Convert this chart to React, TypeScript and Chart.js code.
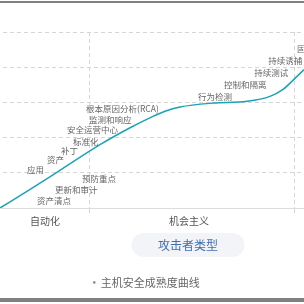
import React, { useEffect, useRef } from 'react';
import { Chart, registerables, layouts } from 'chart.js';

Chart.register(...registerables);

// ---- data ----
const SERIES_NAME = '主机安全成熟度曲线';
const AXIS_TITLE = '攻击者类型';
const CATEGORIES = ['自动化', '机会主义'];
const CATEGORY_POS = [14.8, 62.2];
const GRID_POS = [29.6, 97.0];

const CURVE_X = [0, 9.9, 19.7, 32.9, 42.8, 49.3, 54.3, 59.2, 70.1, 81.3, 88.8, 93.1, 97.7, 100];
const CURVE_Y = [0, 0.53, 1.07, 1.8, 2.28, 2.56, 2.75, 2.87, 2.98, 3.03, 3.17, 3.37, 3.74, 3.93];

const NOTE_TEXT = [
  '资产清点', '更新和审计', '预防重点', '应用', '资产', '补丁', '标准化',
  '安全运营中心', '监测和响应', '根本原因分析(RCA)', '行为检测', '控制和隔离',
  '持续测试', '持续诱捕', '固件防护',
];
const NOTE_X = [12.2, 18.1, 27.0, 8.9, 15.5, 20.1, 24.0, 22.0, 29.3, 28.3, 65.1, 73.7, 83.6, 88.2, 97.7];
const NOTE_Y = [0.2, 0.53, 0.84, 1.1, 1.38, 1.63, 1.88, 2.22, 2.5, 2.81, 3.17, 3.51, 3.85, 4.19, 4.52];

const X_MIN = -3.62;
const X_MAX = 100;
const Y_MIN = 0;
const Y_MAX = 5;

// ---- style ----
const FONT = "'Noto Sans CJK SC', 'Noto Sans', sans-serif";
const LINE_COLOR = '#1ba2b5';
const GRID_COLOR = '#d6d6d6';

const notesPlugin = {
  id: 'notes',
  afterDatasetsDraw(chart: any) {
    const { ctx, scales } = chart;
    const x = scales.x;
    const y = scales.y;
    ctx.save();
    ctx.font = `8.5px ${FONT}`;
    ctx.fillStyle = '#666';
    ctx.textAlign = 'left';
    ctx.textBaseline = 'middle';
    NOTE_TEXT.forEach((t, i) => {
      ctx.fillText(t, x.getPixelForValue(NOTE_X[i]), y.getPixelForValue(NOTE_Y[i]));
    });
    ctx.restore();
  },
};

const pillTitlePlugin = {
  id: 'pillTitle',
  beforeInit(chart: any) {
    const box: any = {
      position: 'bottom',
      weight: 500,
      fullSize: true,
      options: { stackWeight: 1 },
      left: 0, top: 0, right: 0, bottom: 0, width: 0, height: 0,
      isHorizontal() { return true; },
      update(maxWidth: number) {
        this.width = maxWidth;
        this.height = 38;
      },
      draw() {
        const ctx = chart.ctx;
        const xs = chart.scales.xLabel;
        if (!xs) return;
        const cx = xs.getPixelForValue(CATEGORY_POS[1]) - 1;
        const w = 113;
        const h = 24;
        const top = this.top + 4;
        ctx.save();
        ctx.fillStyle = '#f2f4f7';
        ctx.beginPath();
        ctx.roundRect(cx - w / 2, top, w, h, h / 2);
        ctx.fill();
        ctx.font = `12px ${FONT}`;
        ctx.fillStyle = '#3f6fb2';
        ctx.textAlign = 'center';
        ctx.textBaseline = 'middle';
        ctx.fillText(AXIS_TITLE, cx, top + h / 2);
        ctx.restore();
      },
    };
    layouts.addBox(chart, box);
  },
};

export default function App() {
  const ref = useRef<HTMLCanvasElement | null>(null);

  useEffect(() => {
    if (!ref.current) return;
    const chart = new Chart(ref.current, {
      type: 'line',
      data: {
        datasets: [
          {
            label: SERIES_NAME,
            data: CURVE_X.map((x, i) => ({ x, y: CURVE_Y[i] })),
            borderColor: LINE_COLOR,
            backgroundColor: LINE_COLOR,
            borderWidth: 1.5,
            pointRadius: 0,
            cubicInterpolationMode: 'monotone',
            fill: false,
          },
        ],
      },
      options: {
        animation: false,
        responsive: false,
        layout: { padding: { top: 32, left: 0, right: 0, bottom: 0 } },
        plugins: {
          tooltip: { enabled: false },
          legend: {
            display: true,
            position: 'bottom',
            labels: {
              usePointStyle: true,
              boxWidth: 2,
              boxHeight: 2,
              padding: 10,
              color: '#666',
              font: { size: 11, family: FONT },
              generateLabels: (c: any) =>
                c.data.datasets.map((ds: any, i: number) => ({
                  text: ds.label,
                  fillStyle: '#999',
                  strokeStyle: '#999',
                  lineWidth: 0,
                  pointStyle: 'circle',
                  hidden: false,
                  datasetIndex: i,
                  fontColor: '#666',
                })),
            },
          },
        },
        scales: {
          x: {
            type: 'linear',
            position: 'bottom',
            min: X_MIN,
            max: X_MAX,
            afterBuildTicks: (axis: any) => {
              axis.ticks = GRID_POS.map((v) => ({ value: v }));
            },
            ticks: { display: false },
            grid: {
              display: true,
              color: GRID_COLOR,
              drawTicks: true,
              tickLength: 5,
            },
            border: { display: true, color: '#dcdcdc', width: 1, dash: [4, 3] },
          },
          xLabel: {
            type: 'linear',
            position: 'bottom',
            min: X_MIN,
            max: X_MAX,
            afterBuildTicks: (axis: any) => {
              axis.ticks = CATEGORY_POS.map((v) => ({ value: v }));
            },
            ticks: {
              display: true,
              autoSkip: false,
              maxRotation: 0,
              padding: 2,
              color: '#555',
              font: { size: 10, family: FONT },
              callback: (_v: any, i: number) => CATEGORIES[i],
            },
            grid: { display: false, drawTicks: false },
            border: { display: false },
          },
          y: {
            type: 'linear',
            position: 'left',
            min: Y_MIN,
            max: Y_MAX,
            ticks: { display: false, stepSize: 1 },
            grid: {
              drawTicks: false,
              color: (ctx: any) => (ctx.tick && ctx.tick.value === Y_MIN ? 'rgba(0,0,0,0)' : GRID_COLOR),
            },
            border: { display: false, dash: [4, 3] },
          },
        },
      } as any,
      plugins: [notesPlugin, pillTitlePlugin],
    });
    return () => chart.destroy();
  }, []);

  return (
    <div
      style={{
        position: 'fixed',
        left: 0,
        top: 0,
        width: 304,
        height: 304,
        overflow: 'hidden',
        background: '#fff',
      }}
    >
      <div style={{ position: 'absolute', left: 0, top: 1, width: 304, height: 2, background: '#808080' }} />
      <canvas
        ref={ref}
        width={315}
        height={298}
        style={{ position: 'absolute', left: -11, top: 0, width: 315, height: 298 }}
      />
      <div style={{ position: 'absolute', left: 0, top: 298, width: 304, height: 4, background: '#808080' }} />
    </div>
  );
}
